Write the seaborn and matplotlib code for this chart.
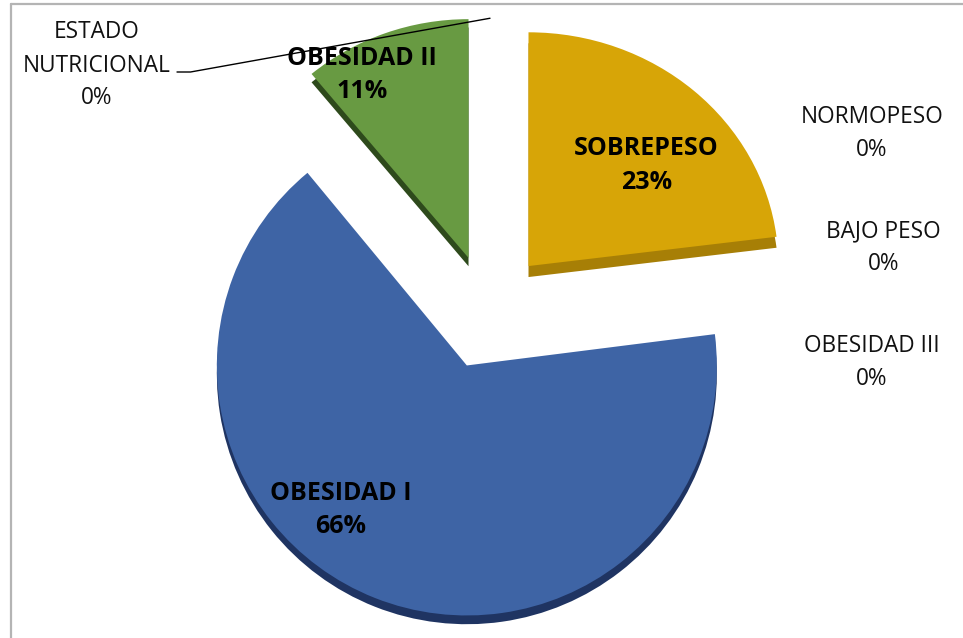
import matplotlib
matplotlib.use("Agg")
import matplotlib.pyplot as plt
import seaborn as sns
import numpy as np
from matplotlib.lines import Line2D
from matplotlib.transforms import Affine2D

# Data (clockwise from 12 o'clock, as in the original chart)
categorias = ["ESTADO\nNUTRICIONAL", "SOBREPESO", "NORMOPESO", "BAJO PESO",
              "OBESIDAD III", "OBESIDAD I", "OBESIDAD II"]
porcentajes = [0, 23, 0, 0, 0, 66, 11]
colores = ["#3E64A5", "#D7A507", "#9BBB59", "#8064A2",
           "#4BACC6", "#3E64A5", "#689A42"]
colores_lado = ["#22396A", "#A77F06", "#4F6A2C", "#4A3A60",
                "#2A6A7A", "#1F3462", "#2E4A1C"]

# Label positions (data units, pie radius = 1)
pos_etiquetas = {
    "ESTADO\nNUTRICIONAL": (-1.564, 0.986),
    "SOBREPESO": (0.634, 0.586),
    "NORMOPESO": (1.536, 0.714),
    "BAJO PESO": (1.582, 0.258),
    "OBESIDAD III": (1.536, -0.202),
    "OBESIDAD I": (-0.588, -0.792),
    "OBESIDAD II": (-0.504, 0.948),
}
# exploded slices and a rough 3D perspective (back slices look flatter)
separacion = {"SOBREPESO": 0.245, "OBESIDAD I": 0.23, "OBESIDAD II": 0.23}
perspectiva = {"SOBREPESO": (1.0, 0.935), "OBESIDAD II": (0.985, 0.955)}

sns.set_theme(style="white")
plt.rcParams["font.family"] = ["Open Sans", "DejaVu Sans"]

W, H, px = 963, 638, 250.0
cx, cy = 488, 312
fig = plt.figure(figsize=(W / 100, H / 100), dpi=100)
ax = fig.add_axes([0, 0, 1, 1])

explode = [separacion.get(c, 0.0) for c in categorias]
prof = 0.035

# 3D side (depth) drawn first, slightly lower
lados, _ = ax.pie(porcentajes, colors=colores_lado, explode=explode, startangle=90,
                  counterclock=False, center=(0, -prof), radius=1.0,
                  wedgeprops=dict(linewidth=0), frame=True)
wedges, _ = ax.pie(porcentajes, colors=colores, explode=explode, startangle=90,
                   counterclock=False, center=(0, 0), radius=1.0,
                   wedgeprops=dict(linewidth=0), frame=True)
ax.set_xlim(-cx / px, (W - cx) / px)
ax.set_ylim(-(H - cy) / px, cy / px)
ax.set_aspect("equal")
ax.axis("off")

for cat, w_top, w_side in zip(categorias, wedges, lados):
    if cat in perspectiva:
        sx, sy = perspectiva[cat]
        ax0, ay0 = w_top.center
        tr = Affine2D().translate(-ax0, -ay0).scale(sx, sy).translate(ax0, ay0)
        w_top.set_transform(tr + ax.transData)
        w_side.set_transform(tr + ax.transData)
    if cat == "SOBREPESO":
        w_side.set_center((w_side.center[0], w_side.center[1] - 0.012))

for cat, val in zip(categorias, porcentajes):
    x, y = pos_etiquetas[cat]
    txt = f"{cat}\n{val}%"
    if val > 0:
        ax.text(x, y, txt, ha="center", va="center", fontsize=18,
                fontweight="bold", color="black", linespacing=1.45)
    else:
        ax.text(x, y, txt, ha="center", va="center", fontsize=16.3,
                color="#111111", linespacing=1.5)

# leader line for the zero slice at the top
ang = np.deg2rad(wedges[0].theta1)
ax.plot([-1.244, -1.19, 1.18 * np.cos(ang) + 0.008],
        [0.96, 0.96, 1.175 * np.sin(ang)], color="black", lw=1.0)

# chart frame
fig.add_artist(Line2D([11 / W, 11 / W], [0, 1 - 4 / H], color="#B4B4B4", lw=1.6))
fig.add_artist(Line2D([11 / W, 1], [1 - 4 / H, 1 - 4 / H], color="#B4B4B4", lw=1.6))

fig.savefig("out.png", dpi=100, facecolor="white")
